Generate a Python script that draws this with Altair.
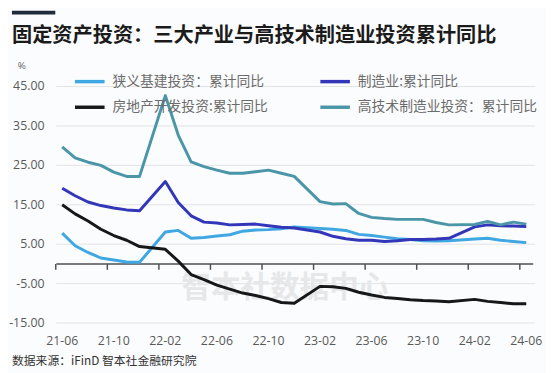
import altair as alt
import pandas as pd

# ---------------- data ----------------
months = [
    "2021-06", "2021-07", "2021-08", "2021-09", "2021-10", "2021-11", "2021-12",
    "2022-02", "2022-03", "2022-04", "2022-05", "2022-06", "2022-07", "2022-08",
    "2022-09", "2022-10", "2022-11", "2022-12",
    "2023-02", "2023-03", "2023-04", "2023-05", "2023-06", "2023-07", "2023-08",
    "2023-09", "2023-10", "2023-11", "2023-12",
    "2024-02", "2024-03", "2024-04", "2024-05", "2024-06",
]
infra = [7.8, 4.6, 2.9, 1.5, 1.0, 0.5, 0.4,
         8.1, 8.5, 6.5, 6.7, 7.1, 7.4, 8.3, 8.6, 8.7, 8.9, 9.4,
         9.0, 8.8, 8.5, 7.5, 7.2, 6.8, 6.4, 6.2, 5.9, 5.8, 5.9,
         6.3, 6.5, 6.0, 5.7, 5.4]
manufacturing = [19.2, 17.3, 15.7, 14.8, 14.2, 13.7, 13.5,
                 20.9, 15.6, 12.2, 10.6, 10.4, 9.9, 10.0, 10.1, 9.7, 9.3, 9.1,
                 8.1, 7.0, 6.4, 6.0, 6.0, 5.7, 5.9, 6.2, 6.2, 6.3, 6.5,
                 9.4, 9.9, 9.7, 9.6, 9.5]
real_estate = [15.0, 12.7, 10.9, 8.8, 7.2, 6.0, 4.4,
               3.7, 0.7, -2.7, -4.0, -5.4, -6.4, -7.4, -8.0, -8.8, -9.8, -10.0,
               -5.7, -5.8, -6.2, -7.2, -7.9, -8.5, -8.8, -9.1, -9.3, -9.4, -9.6,
               -9.0, -9.5, -9.8, -10.1, -10.1]
high_tech = [29.7, 26.9, 25.8, 25.0, 23.3, 22.2, 22.2,
             42.7, 32.7, 25.9, 24.7, 23.8, 23.0, 23.0, 23.4, 23.8, 23.0, 22.2,
             15.8, 15.2, 15.3, 12.8, 11.8, 11.5, 11.3, 11.3, 11.3, 10.5, 9.9,
             10.0, 10.8, 9.9, 10.6, 10.1]

series_names = ["狭义基建投资：累计同比", "制造业:累计同比",
                "房地产开发投资:累计同比", "高技术制造业投资：累计同比"]
series_colors = ["#3fa7e2", "#3236b8", "#151719", "#4b95a8"]

x_tick_labels = ["21-06", "21-10", "22-02", "22-06", "22-10",
                 "23-02", "23-06", "23-10", "24-02", "24-06"]
y_tick_values = [-15, -5, 5, 15, 25, 35, 45]

title_text = "固定资产投资：三大产业与高技术制造业投资累计同比"
source_text = "数据来源：iFinD 智本社金融研究院"
watermark_text = "智本社数据中心"
unit_text = "%"

# ---------------- tables ----------------
X_DOMAIN = [-0.46, 36.69]
Y_DOMAIN = [-15, 45]

def month_index(s):
    y, m = map(int, s.split("-"))
    return (y - 2021) * 12 + m - 6

rows = []
for k, (name, vals) in enumerate(zip(series_names,
                                     [infra, manufacturing, real_estate, high_tech])):
    for m, v in zip(months, vals):
        rows.append({"series": name, "idx": month_index(m), "value": v, "k": k})
df = pd.DataFrame(rows)

tick_idx = [4 * i for i in range(len(x_tick_labels))]
xlab_df = pd.DataFrame({"idx": tick_idx, "label": x_tick_labels})
ylab_df = pd.DataFrame({"value": y_tick_values,
                        "label": [f"{v:.2f}" for v in y_tick_values]})

# gridlines / zero line / category ticks as short line segments through the scales
grid_df = pd.DataFrame([{"g": v, "idx": x, "value": v}
                        for v in y_tick_values for x in X_DOMAIN])
zero_df = pd.DataFrame({"idx": [X_DOMAIN[0], X_DOMAIN[1] - 0.15], "value": [0, 0]})
TICK_LEN = 1.5   # in value units (6 px)
ticks_df = pd.DataFrame([{"t": t, "idx": t - 0.5, "value": v}
                         for t in tick_idx for v in (0, -TICK_LEN)])

W, H = 486, 240
FONT = "Noto Sans CJK SC"
xscale = alt.Scale(domain=X_DOMAIN, nice=False, zero=False)
yscale = alt.Scale(domain=Y_DOMAIN, nice=False, zero=False)

X = lambda f: alt.X(f, scale=xscale, axis=None)
Y = lambda f: alt.Y(f, scale=yscale, axis=None)

grid = alt.Chart(grid_df).mark_line(color="#e1e3e6", strokeWidth=1).encode(
    x=X("idx:Q"), y=Y("value:Q"), detail="g:N")

zero_line = alt.Chart(zero_df).mark_line(color="#505050", strokeWidth=1.5).encode(
    x=X("idx:Q"), y=Y("value:Q"))

tick_marks = alt.Chart(ticks_df).mark_line(color="#505050", strokeWidth=1.5).encode(
    x=X("idx:Q"), y=Y("value:Q"), detail="t:N")

lines = alt.Chart(df).mark_line(strokeWidth=3, strokeJoin="round").encode(
    x=X("idx:Q"),
    y=Y("value:Q"),
    color=alt.Color("series:N",
                    scale=alt.Scale(domain=series_names, range=series_colors),
                    legend=alt.Legend(orient="none", legendX=15, legendY=-12,
                                      columns=2, columnPadding=46, rowPadding=12,
                                      direction="horizontal",
                                      symbolType="M-1,0H9", symbolSize=36,
                                      symbolStrokeWidth=3.5, symbolFillColor="transparent",
                                      labelOffset=28, labelFontSize=14,
                                      labelColor="#6b6b6b", labelFont=FONT,
                                      labelLimit=400, title=None, padding=0)),
    order=alt.Order("k:Q"),
    detail="series:N",
)

x_labels = alt.Chart(xlab_df).mark_text(
    font="Open Sans", fontSize=12.5, color="#595959",
    align="center", baseline="middle").encode(
    x=X("idx:Q"), y=alt.value(258), text="label:N")

y_labels = alt.Chart(ylab_df).mark_text(
    font="Open Sans", fontSize=12.5, color="#595959",
    align="right", baseline="middle").encode(
    y=Y("value:Q"), x=alt.value(-12), text="label:N")

unit = alt.Chart(pd.DataFrame({"t": [unit_text]})).mark_text(
    font="Open Sans", fontSize=10, color="#666666",
    align="center", baseline="middle").encode(
    text="t:N", x=alt.value(-35), y=alt.value(-21))

watermark = alt.Chart(pd.DataFrame({"t": [watermark_text]})).mark_text(
    font=FONT, fontSize=30, fontWeight="bold", color="#e6e7e9",
    align="center", baseline="middle").encode(
    text="t:N", x=alt.value(232), y=alt.value(205))

title = alt.Chart(pd.DataFrame({"t": [title_text]})).mark_text(
    font=FONT, fontSize=20.5, fontWeight="bold", color="#1b1b1b",
    align="left", baseline="middle").encode(
    text="t:N", x=alt.value(-45), y=alt.value(-51))

title_bar = alt.Chart(pd.DataFrame({"b": [1]})).mark_rule(
    color="#1f2b3a", strokeWidth=4).encode(
    x=alt.value(-45), x2=alt.value(-1), y=alt.value(-75))

source = alt.Chart(pd.DataFrame({"t": [source_text]})).mark_text(
    font=FONT, fontSize=12, color="#333333",
    align="left", baseline="middle").encode(
    text="t:N", x=alt.value(-45), y=alt.value(279))

chart = alt.layer(
    grid, watermark, zero_line, tick_marks, lines,
    x_labels, y_labels, unit, title_bar, title, source
).properties(
    width=W, height=H,
    padding={"left": 49, "top": 77, "right": 11, "bottom": 48},
    autosize=alt.AutoSizeParams(type="none"),
    background="#fbfcfd",
).configure_view(stroke=None)

chart.save("out.html", embed_options={"renderer": "svg", "actions": False})
